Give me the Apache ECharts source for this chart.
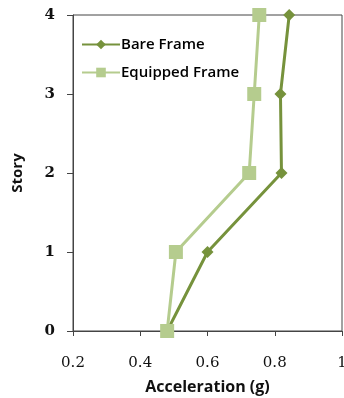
<!DOCTYPE html>
<html><head><meta charset="utf-8">
<script src="https://cdn.jsdelivr.net/npm/echarts@6/dist/echarts.min.js"></script>
<style>html,body{margin:0;padding:0;background:#fff}#c{width:344px;height:398px}</style>
</head><body><div id="c"></div>
<script>
const stories = [0, 1, 2, 3, 4];
const bareFrame = [0.48, 0.60, 0.82, 0.817, 0.843];
const equippedFrame = [0.48, 0.506, 0.724, 0.739, 0.754];
const xTicks = [0.2, 0.4, 0.6, 0.8, 1];

const chart = echarts.init(document.getElementById('c'));
chart.setOption({
  animation: false,
  backgroundColor: '#fff',
  grid: {left: 73, right: 2, top: 15, bottom: 67, show: true, borderColor: '#444', borderWidth: 1,
         containLabel: false, outerBoundsMode: 'none'},
  legend: {
    orient: 'vertical', left: 76, top: 32, itemWidth: 38, itemHeight: 12, itemGap: 13,
    textStyle: {fontFamily: 'Open Sans', fontWeight: 600, fontSize: 15, color: '#000', padding: [0, 0, 0, -4]},
    data: ['Bare Frame', 'Equipped Frame']
  },
  xAxis: {
    type: 'value', min: 0.2, max: 1, interval: 0.2,
    name: 'Acceleration (g)', nameLocation: 'middle', nameGap: 48,
    nameTextStyle: {fontFamily: 'Open Sans', fontWeight: 'bold', fontSize: 16, color: '#111'},
    axisLine: {lineStyle: {color: '#444'}},
    axisTick: {show: true, length: 5, lineStyle: {color: '#444'}},
    axisLabel: {fontFamily: 'DejaVu Serif', fontSize: 15, color: '#111', margin: 25,
      formatter: v => xTicks.includes(+v.toFixed(1)) ? (v === 1 ? '1' : v.toFixed(1)) : ''},
    splitLine: {show: false}
  },
  yAxis: {
    type: 'value', min: 0, max: 4, interval: 1,
    name: 'Story', nameLocation: 'middle', nameGap: 48,
    nameTextStyle: {fontFamily: 'Open Sans', fontWeight: 'bold', fontSize: 15, color: '#111'},
    axisLine: {show: true, lineStyle: {color: '#444'}},
    axisTick: {show: true, length: 6, lineStyle: {color: '#444'}},
    axisLabel: {fontFamily: 'DejaVu Serif', fontSize: 15, color: '#111', margin: 18, fontWeight: 'bold'},
    splitLine: {show: false}
  },
  series: [
    {
      name: 'Bare Frame', type: 'line',
      data: bareFrame.map((v, i) => [v, stories[i]]),
      symbol: 'diamond', symbolSize: 12,
      lineStyle: {color: '#76923C', width: 3},
      itemStyle: {color: '#76923C'}, z: 3
    },
    {
      name: 'Equipped Frame', type: 'line',
      data: equippedFrame.map((v, i) => [v, stories[i]]),
      symbol: 'rect', symbolSize: 14,
      lineStyle: {color: '#B5CC8E', width: 3},
      itemStyle: {color: '#B5CC8E'}, z: 4
    }
  ]
});
</script></body></html>
